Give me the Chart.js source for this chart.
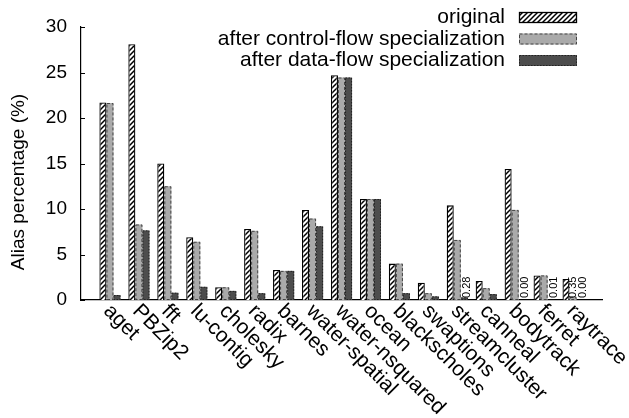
<!DOCTYPE html>
<html>
<head>
<meta charset="utf-8">
<title>Alias percentage</title>
<script src="https://cdn.jsdelivr.net/npm/chart.js@4.4.1/dist/chart.umd.min.js"></script>
<style>
  html, body { margin: 0; padding: 0; background: #fff; }
</style>
</head>
<body>
<canvas id="aliasChart" width="629" height="418"></canvas>
<script>
var categories = ['aget', 'PBZip2', 'fft', 'lu-contig', 'cholesky', 'radix', 'barnes',
  'water-spatial', 'water-nsquared', 'ocean', 'blackscholes', 'swaptions',
  'streamcluster', 'canneal', 'bodytrack', 'ferret', 'raytrace'];
var original     = [21.7, 28.1, 15.0, 6.9, 1.4, 7.8, 3.3, 9.9, 24.7, 11.1, 4.0, 1.9, 10.4, 2.1, 14.4, 2.7, 2.3];
var afterControl = [21.65, 8.3, 12.5, 6.4, 1.4, 7.6, 3.2, 8.95, 24.45, 11.1, 4.0, 0.75, 6.6, 1.3, 9.9, 2.7, 0.35];
var afterData    = [0.55, 7.65, 0.8, 1.45, 1.0, 0.75, 3.2, 8.1, 24.45, 11.1, 0.75, 0.4, 0.28, 0.65, 0.00, 0.01, 0.00];
var yTicks = [0, 5, 10, 15, 20, 25, 30];
// bars whose value is written out next to them: [dataset, category]
var printedValues = [[2, 12], [2, 14], [2, 15], [1, 16], [2, 16]];

var FONT = '"Liberation Sans", Arial, Helvetica, sans-serif';

var canvas = document.getElementById('aliasChart');
var ctx = canvas.getContext('2d');

// white with black "/" stripes
function hatchPattern() {
  var s = 5;
  var c = document.createElement('canvas');
  c.width = s; c.height = s;
  var g = c.getContext('2d');
  g.fillStyle = '#fff';
  g.fillRect(0, 0, s, s);
  g.strokeStyle = '#000';
  g.lineWidth = 1.5;
  g.beginPath();
  g.moveTo(-1, s + 1); g.lineTo(s + 1, -1);
  g.moveTo(-1, 1); g.lineTo(1, -1);
  g.moveTo(s - 1, s + 1); g.lineTo(s + 1, s - 1);
  g.stroke();
  return ctx.createPattern(c, 'repeat');
}

function points(arr) {
  return arr.map(function(v, i) { return { x: i, y: v }; });
}

function strokeBox(c, x, y, w, h, color, dash, lw) {
  c.save();
  c.strokeStyle = color;
  c.lineWidth = lw;
  c.setLineDash(dash);
  c.strokeRect(x, y, w, h);
  c.restore();
}

var extras = {
  id: 'extras',
  afterDatasetsDraw: function(chart) {
    var c = chart.ctx;
    // dashed outlines for the two grey series
    chart.data.datasets.forEach(function(ds, d) {
      if (!ds.dash) return;
      chart.getDatasetMeta(d).data.forEach(function(el) {
        var h = el.base - el.y;
        if (h < 1) return;
        strokeBox(c, el.x - el.width / 2 + 0.5, el.y + 0.5, el.width - 1, h - 1, ds.dashColor, ds.dash, 1);
      });
    });
    // printed small values
    c.save();
    c.fillStyle = '#000';
    c.font = '11px ' + FONT;
    c.textAlign = 'left';
    c.textBaseline = 'middle';
    printedValues.forEach(function(p) {
      var el = chart.getDatasetMeta(p[0]).data[p[1]];
      var v = chart.data.datasets[p[0]].data[p[1]].y;
      c.save();
      c.translate(el.x + (p[0] === 2 ? 2.5 : 0), el.base - 2);
      c.rotate(-Math.PI / 2);
      c.fillText(v.toFixed(2), 0, 0);
      c.restore();
    });
    c.restore();
  },
  afterDraw: function(chart) {
    var c = chart.ctx;
    var xs = chart.scales.x, ys = chart.scales.y;
    var area = chart.chartArea;
    c.save();
    // inward y tics
    c.strokeStyle = '#000';
    c.lineWidth = 1;
    yTicks.forEach(function(v) {
      var y = Math.round(ys.getPixelForValue(v)) + 0.5;
      c.beginPath();
      c.moveTo(area.left, y);
      c.lineTo(area.left + 4, y);
      c.stroke();
    });
    // slanted category labels
    c.fillStyle = '#000';
    c.font = '21px ' + FONT;
    c.textAlign = 'left';
    c.textBaseline = 'middle';
    categories.forEach(function(name, i) {
      c.save();
      c.translate(xs.getPixelForValue(i) - 3, area.bottom + 8);
      c.rotate(Math.PI / 4);
      c.fillText(name, 0, 0);
      c.restore();
    });
    // y title
    c.font = '19px ' + FONT;
    c.save();
    c.translate(19, 182);
    c.rotate(-Math.PI / 2);
    c.textAlign = 'center';
    c.fillText('Alias percentage (%)', 0, 0);
    c.restore();
    // legend, text on the left of the key
    c.font = '21px ' + FONT;
    c.textAlign = 'right';
    chart.data.datasets.forEach(function(ds, d) {
      var yc = 17.5 + d * 21.5;
      c.fillStyle = '#000';
      c.fillText(ds.label, 505, yc);
      c.fillStyle = ds.backgroundColor;
      c.fillRect(519, yc - 5.5, 58, 11);
      if (ds.dash) {
        strokeBox(c, 519.5, yc - 5, 57, 10, ds.dashColor, ds.dash, 1);
      } else {
        strokeBox(c, 519.5, yc - 5, 57, 10, '#000', [], 1.3);
      }
    });
    c.restore();
  }
};

new Chart(ctx, {
  type: 'bar',
  data: {
    datasets: [{
      label: 'original',
      data: points(original),
      backgroundColor: hatchPattern(),
      borderColor: '#000',
      borderWidth: 1.3
    }, {
      label: 'after control-flow specialization',
      data: points(afterControl),
      backgroundColor: '#aaaaaa',
      borderWidth: 0,
      dash: [3, 2],
      dashColor: '#444'
    }, {
      label: 'after data-flow specialization',
      data: points(afterData),
      backgroundColor: '#4d4d4d',
      borderWidth: 0,
      dash: [1.5, 1.5],
      dashColor: '#222'
    }]
  },
  options: {
    responsive: false,
    devicePixelRatio: 1,
    animation: false,
    layout: { padding: { top: 27, right: 27, left: 0, bottom: 0 } },
    datasets: { bar: { barPercentage: 1, categoryPercentage: 0.73 } },
    plugins: { legend: { display: false }, tooltip: { enabled: false } },
    scales: {
      x: {
        type: 'linear',
        min: -1,
        max: 17,
        offset: false,
        grid: { display: false, offset: false, drawTicks: false },
        border: { display: true, color: '#000', width: 1.2 },
        ticks: { display: false, stepSize: 1 },
        afterFit: function(s) { s.height = 118; }
      },
      y: {
        min: 0,
        max: 30,
        grid: { display: false, drawTicks: false },
        border: { display: true, color: '#000', width: 1.2 },
        ticks: {
          stepSize: 5,
          padding: 14,
          color: '#000',
          font: { family: FONT, size: 19 }
        },
        afterFit: function(s) { s.width = 81; }
      }
    }
  },
  plugins: [extras]
});
</script>
</body>
</html>
